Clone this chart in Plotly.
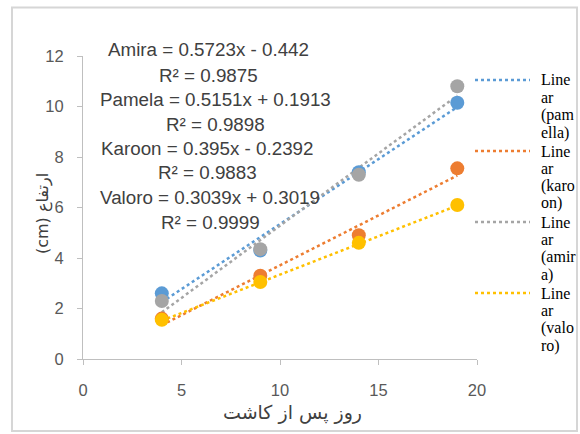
import plotly.graph_objects as go

days = [4, 9, 14, 19]
pamella = [2.6, 4.3, 7.4, 10.15]
karoon = [1.6, 3.3, 4.9, 7.55]
amira = [2.3, 4.35, 7.3, 10.8]
valoro = [1.55, 3.05, 4.6, 6.1]

series_names = ["pamella", "karoon", "amira", "valoro"]
series_values = [pamella, karoon, amira, valoro]
colors = ["#5B9BD5", "#ED7D31", "#A5A5A5", "#FFC000"]
legend_lines = [["Line", "ar", "(pam", "ella)"],
                ["Line", "ar", "(karo", "on)"],
                ["Line", "ar", "(amir", "a)"],
                ["Line", "ar", "(valo", "ro)"]]

# trendline coefficients as printed on the chart
slopes = {"amira": 0.5723, "pamella": 0.5151, "karoon": 0.395, "valoro": 0.3039}
intercepts = {"amira": -0.442, "pamella": 0.1913, "karoon": -0.2392, "valoro": 0.3019}
eq_lines = [
    "Amira = 0.5723x - 0.442", "R² = 0.9875",
    "Pamela = 0.5151x + 0.1913", "R² = 0.9898",
    "Karoon = 0.395x - 0.2392", "R² = 0.9883",
    "Valoro = 0.3039x + 0.3019", "R² = 0.9999",
]

# page geometry (window px) -> paper coords
W, H = 580, 434
L, R, T, B = 83, 103, 56, 75
pw, ph = W - L - R, H - T - B


def px(x):
    return (x - L) / pw


def py(y):
    return (H - B - y) / ph


fig = go.Figure()

# trendlines
for name, col in zip(series_names, colors):
    xs = [days[0], days[-1]]
    ys = [slopes[name] * x + intercepts[name] for x in xs]
    fig.add_trace(go.Scatter(x=xs, y=ys, mode="lines", name="Linear (" + name + ")",
                             line=dict(color=col, width=2.5, dash="dot"),
                             showlegend=False, hoverinfo="skip"))

# markers
for name, vals, col in zip(series_names, series_values, colors):
    fig.add_trace(go.Scatter(x=days, y=vals, mode="markers", name=name,
                             marker=dict(color=col, size=14),
                             showlegend=False))

# equation labels
eq_y = [50, 75, 99, 124, 148, 172, 197, 222]
eq_x = [208, 208, 215, 215, 207, 207, 210, 210]
for txt, xx, yy in zip(eq_lines, eq_x, eq_y):
    fig.add_annotation(text=txt, xref="paper", yref="paper", x=px(xx), y=py(yy),
                       xanchor="center", yanchor="middle", showarrow=False,
                       font=dict(family="Liberation Sans, Arial", size=18.8, color="#404040"))

# legend (manual, to match narrow wrapped entries)
leg_y = [80, 151, 222, 293]
for col, lines, y0 in zip(colors, legend_lines, leg_y):
    fig.add_shape(type="line", xref="paper", yref="paper",
                  x0=px(475), x1=px(530), y0=py(y0), y1=py(y0),
                  line=dict(color=col, width=2.5, dash="dot"))
    for i, t in enumerate(lines):
        fig.add_annotation(text=t, xref="paper", yref="paper", x=px(539), y=py(y0 + 17.5 * i),
                           xanchor="left", yanchor="middle", showarrow=False,
                           font=dict(family="Liberation Serif, Times New Roman", size=16, color="black"))

# axis titles
fig.add_annotation(text="(cm) ارتفاع", xref="paper", yref="paper", x=px(43), y=py(214),
                   xanchor="center", yanchor="middle", showarrow=False, textangle=-90,
                   font=dict(family="DejaVu Sans", size=16, color="#404040"))
fig.add_annotation(text="روز پس از کاشت", xref="paper", yref="paper", x=px(292), y=py(412),
                   xanchor="center", yanchor="middle", showarrow=False,
                   font=dict(family="DejaVu Sans", size=19, color="#404040"))

# outer chart border
fig.add_shape(type="rect", xref="paper", yref="paper", layer="below",
              x0=px(12), x1=px(577), y0=py(431), y1=py(7.5),
              line=dict(color="#D6D6D6", width=2))

fig.update_layout(
    width=W, height=H,
    margin=dict(l=L, r=R, t=T, b=B, autoexpand=False),
    paper_bgcolor="white", plot_bgcolor="white",
    showlegend=False,
    xaxis=dict(range=[0, 20], tickvals=[0, 5, 10, 15, 20], showgrid=False, zeroline=False,
               showline=True, linecolor="#BFBFBF", linewidth=1.2, automargin=False,
               ticks="outside", ticklen=5, tickcolor="#BFBFBF", ticklabelstandoff=11,
               tickfont=dict(family="Liberation Sans, Arial", size=16.5, color="#595959")),
    yaxis=dict(range=[0, 12], tickvals=[0, 2, 4, 6, 8, 10, 12], showgrid=False, zeroline=False,
               showline=True, linecolor="#BFBFBF", linewidth=1.2, automargin=False,
               ticks="outside", ticklen=5, tickcolor="#BFBFBF", ticklabelstandoff=10,
               tickfont=dict(family="Liberation Sans, Arial", size=16.5, color="#595959")),
)

fig.write_html("out.html",
               config={"displayModeBar": False},
               post_script="document.body.style.margin='0';"
                           "document.documentElement.style.overflow='hidden';")
